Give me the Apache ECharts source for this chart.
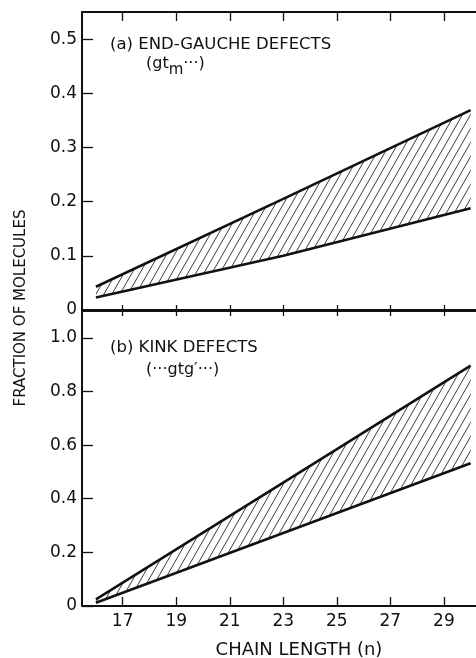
<!DOCTYPE html>
<html>
<head>
<meta charset="utf-8">
<script src="https://cdn.jsdelivr.net/npm/echarts@6/dist/echarts.min.js"></script>
<style>
  html, body { margin: 0; padding: 0; background: #fff; }
  #chart { width: 476px; height: 658px; }
</style>
</head>
<body>
<div id="chart"></div>
<script>
// Chain length n where the bounds are given
const chainLength = [16, 23, 30];

// (a) end-gauche defects: lower and upper bound of the fraction
const endGaucheLower = [0.023, 0.100, 0.188];
const endGaucheUpper = [0.043, 0.205, 0.369];

// (b) kink defects: lower and upper bound of the fraction
const kinkLower = [0.012, 0.272, 0.532];
const kinkUpper = [0.025, 0.460, 0.896];

// Tick positions
const xTicks = [17, 19, 21, 23, 25, 27, 29];
const yTicksA = [0, 0.1, 0.2, 0.3, 0.4, 0.5];
const yTicksB = [0, 0.2, 0.4, 0.6, 0.8, 1.0];

const FONT = '"DejaVu Sans", sans-serif';
const INK = '#111';

// Diagonal hatching used to fill the band between the bounds
function hatchPattern() {
  const w = 8, h = 14;
  const c = document.createElement('canvas');
  c.width = w; c.height = h;
  const ctx = c.getContext('2d');
  ctx.strokeStyle = '#222';
  ctx.lineWidth = 0.9;
  for (const dx of [-w, 0, w]) {
    ctx.beginPath();
    ctx.moveTo(dx, h);
    ctx.lineTo(dx + w, 0);
    ctx.stroke();
  }
  return { image: c, repeat: 'repeat' };
}
const hatch = hatchPattern();

function pairs(xs, ys) { return xs.map((x, i) => [x, ys[i]]); }

const fmtY = v => (v === 0 ? '0' : v.toFixed(1));

function xAxisDef(gridIndex, position, opts) {
  return Object.assign({
    type: 'value', gridIndex, position,
    min: 15.48, max: 30.2,
    splitLine: { show: false },
    axisLine: { show: true, onZero: false, lineStyle: { color: INK, width: 2 } },
    axisTick: { show: true, inside: true, length: 9, customValues: xTicks, lineStyle: { color: INK, width: 1.3 } },
    axisLabel: { show: false }
  }, opts);
}

function yAxisDef(gridIndex, max, ticks) {
  return {
    type: 'value', gridIndex, min: 0, max,
    splitLine: { show: false },
    axisLine: { show: true, onZero: false, lineStyle: { color: INK, width: 2 } },
    axisTick: { show: true, inside: true, length: 11, customValues: ticks, lineStyle: { color: INK, width: 1.3 } },
    axisLabel: { show: true, customValues: ticks, formatter: fmtY, color: INK, fontFamily: FONT, fontSize: 17, margin: 5 }
  };
}

// Hatched band between the lower and upper bound, plus the two bounding lines
function bandSeries(xIdx, yIdx, lower, upper) {
  const line = { color: INK, width: 2.6 };
  return [
    {
      type: 'custom', xAxisIndex: xIdx, yAxisIndex: yIdx, silent: true, z: 2,
      data: [0],
      renderItem: function (params, api) {
        const pts = [];
        chainLength.forEach((n, i) => pts.push(api.coord([n, upper[i]])));
        for (let i = chainLength.length - 1; i >= 0; i--) pts.push(api.coord([chainLength[i], lower[i]]));
        return { type: 'polygon', shape: { points: pts }, style: { fill: hatch, stroke: null } };
      }
    },
    {
      type: 'line', xAxisIndex: xIdx, yAxisIndex: yIdx, z: 3,
      data: pairs(chainLength, lower), showSymbol: false, silent: true, lineStyle: line
    },
    {
      type: 'line', xAxisIndex: xIdx, yAxisIndex: yIdx, z: 3,
      data: pairs(chainLength, upper), showSymbol: false, silent: true, lineStyle: line
    }
  ];
}

const chart = echarts.init(document.getElementById('chart'), null, { renderer: 'canvas' });
chart.setOption({
  animation: false,
  backgroundColor: '#fff',
  grid: [
    { left: 82, top: 12, width: 394, height: 298 },
    { left: 82, top: 311, width: 394, height: 295 }
  ],
  xAxis: [
    xAxisDef(0, 'bottom', { axisTick: { show: true, inside: true, length: 5, customValues: xTicks, lineStyle: { color: INK, width: 1.3 } } }),
    xAxisDef(0, 'top'),
    xAxisDef(1, 'bottom', {
      axisLabel: { show: true, customValues: xTicks, color: INK, fontFamily: FONT, fontSize: 17, margin: 7 }
    }),
    xAxisDef(1, 'top', { axisTick: { show: true, inside: true, length: 5, customValues: xTicks, lineStyle: { color: INK, width: 1.3 } } })
  ],
  yAxis: [
    yAxisDef(0, 0.55, yTicksA),
    yAxisDef(1, 1.1, yTicksB)
  ],
  series: [
    ...bandSeries(0, 0, endGaucheLower, endGaucheUpper),
    ...bandSeries(2, 1, kinkLower, kinkUpper)
  ],
  graphic: [
    {
      type: 'text', left: 110, top: 36,
      style: { text: '(a) END-GAUCHE DEFECTS', fill: INK, font: '16.5px ' + FONT }
    },
    {
      type: 'text', left: 146, top: 56,
      style: {
        text: '(gt{sub|m}···)', fill: INK, font: '16px ' + FONT,
        rich: { sub: { fontFamily: FONT, fontSize: 15, fill: INK, padding: [12, 0, 0, 0] } }
      }
    },
    {
      type: 'text', left: 110, top: 339,
      style: { text: '(b) KINK DEFECTS', fill: INK, font: '16.5px ' + FONT }
    },
    {
      type: 'text', left: 146, top: 362,
      style: { text: '(···gtg′···)', fill: INK, font: '16px ' + FONT }
    },
    {
      type: 'text', x: 21, y: 308, rotation: Math.PI / 2,
      style: { text: 'FRACTION OF MOLECULES', fill: INK, font: '15px ' + FONT, align: 'center', verticalAlign: 'middle' }
    },
    {
      type: 'text', x: 299, y: 650,
      style: { text: 'CHAIN LENGTH (n)', fill: INK, font: '18px ' + FONT, align: 'center', verticalAlign: 'middle' }
    }
  ]
});
</script>
</body>
</html>
